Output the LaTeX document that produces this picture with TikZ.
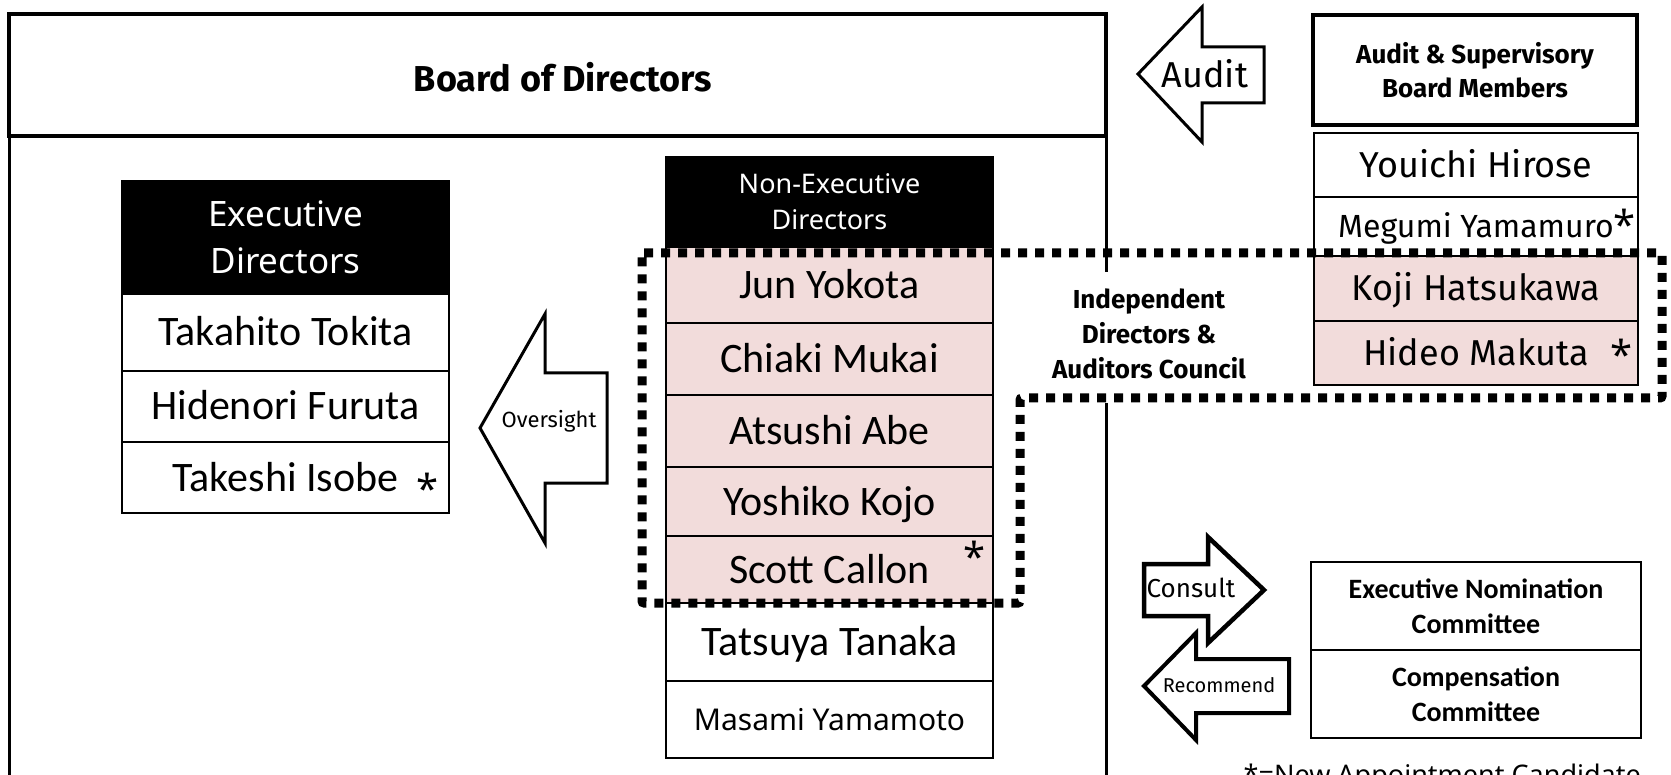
\documentclass[tikz,border=0pt]{standalone}
\usepackage{fontspec}
\setmainfont{Carlito}
\newfontfamily\fira{Fira Sans}
\newfontfamily\noto{Noto Sans}
\definecolor{pinkfill}{HTML}{F2DCDB}
\begin{document}
\begin{tikzpicture}[x=1pt,y=-1pt,
  cell/.style={draw, line width=1.6pt, inner sep=0pt, outer sep=0pt},
  pinkcell/.style={cell, fill=pinkfill},
  hdr/.style={cell, fill=black, text=white, align=center},
  exw/.style={minimum width=327pt},
  amw/.style={minimum width=324pt},
  cmw/.style={minimum width=330pt},
  calname/.style={font=\fontsize{42}{48}\selectfont, text height=27pt, text depth=0pt},
  firaname/.style={font=\fira\fontsize{36}{42}\selectfont, text height=25pt, text depth=0pt},
  boldlbl/.style={font=\fira\bfseries\fontsize{26}{34}\selectfont, align=center},
  comlbl/.style={font=\bfseries\fontsize{28}{35}\selectfont, align=center},
  blockarrow/.style={draw, line width=3pt, fill=white, line join=miter},
  starmark/.style={font=\noto\fontsize{40}{40}\selectfont, inner sep=0pt},
  council/.style={line width=9pt, dash pattern=on 9pt off 8pt, rounded corners=2pt}
]
\useasboundingbox (0,0) rectangle (1671,775);
\fill[white] (0,0) rectangle (1671,775);

% Board of Directors
\node[draw, line width=4pt, inner sep=0pt, minimum width=1097pt, minimum height=122pt] (board) at (557.5,75) {};
\node[font=\fira\bfseries\fontsize{36}{42}\selectfont, text height=25pt, text depth=0pt, inner sep=0pt] (boardlbl) at (563,79) {Board of Directors};
% lower frame
\coordinate (fl1) at (9,137);
\coordinate (fl2) at (9,780);
\coordinate (fr1) at (1106,137);
\coordinate (fr2) at (1106,272);
\coordinate (fr3) at (1106,403);
\coordinate (fr4) at (1106,780);
\draw[line width=3pt] (fl1) -- (fl2);
\draw[line width=3pt] (fr1) -- (fr2);
\draw[line width=3pt] (fr3) -- (fr4);
\draw[line width=3pt] (fl1) -- (fr1);

% Executive Directors
\node[hdr, exw, minimum height=113pt, font=\noto\fontsize{35}{47}\selectfont] (exh) at (285.5,237.5) {Executive\\Directors};
\node[cell, exw, minimum height=77pt, calname] (ex1) at (285.5,332.5) {Takahito Tokita};
\node[cell, exw, minimum height=71pt, calname] (ex2) at (285.5,406.5) {Hidenori Furuta};
\node[cell, exw, minimum height=71pt, calname] (ex3) at (285.5,477.5) {Takeshi Isobe};
\node[starmark] (st1) at (428,488) {*};

% Oversight arrow
\draw[blockarrow] (480,428) -- (545,314) -- (545,373) -- (607,373) -- (607,483) -- (545,483) -- (545,543) -- cycle;
\node[font=\fira\fontsize{22}{26}\selectfont] (over) at (549,421) {Oversight};

% Non-Executive Directors
\node[hdr, exw, minimum height=90pt, font=\noto\fontsize{27}{36}\selectfont] (neh) at (829.5,202) {Non-Executive\\Directors};
\node[pinkcell, exw, minimum height=76pt, calname] (ne1) at (829.5,285) {Jun Yokota};
\node[pinkcell, exw, minimum height=72pt, calname] (ne2) at (829.5,359) {Chiaki Mukai};
\node[pinkcell, exw, minimum height=72pt, calname] (ne3) at (829.5,431) {Atsushi Abe};
\node[pinkcell, exw, minimum height=69pt, calname] (ne4) at (829.5,501.5) {Yoshiko Kojo};
\node[pinkcell, exw, minimum height=67pt, calname] (ne5) at (829.5,569.5) {Scott Callon};
\node[starmark] (st2) at (975,556) {*};
\node[cell, exw, minimum height=78pt, calname] (ne6) at (829.5,642) {Tatsuya Tanaka};
\node[cell, exw, minimum height=77pt, font=\noto\fontsize{30}{36}\selectfont, text height=21pt, text depth=0pt] (ne7) at (829.5,719.5) {Masami Yamamoto};

% Audit arrow
\draw[blockarrow] (1138,74) -- (1202,7) -- (1202,47) -- (1264,47) -- (1264,103) -- (1202,103) -- (1202,142) -- cycle;
\node[font=\fira\fontsize{36}{40}\selectfont, text height=25pt, text depth=0pt, inner sep=0pt] (audit) at (1205,75) {Audit};

% Audit & Supervisory Board Members
\node[draw, line width=4pt, inner sep=0pt, minimum width=324pt, minimum height=110pt, boldlbl] (asb) at (1475,70) {Audit \& Supervisory\\Board Members};
\node[cell, amw, minimum height=64pt, firaname] (am1) at (1476,165) {Youichi Hirose};
\node[cell, amw, minimum height=59pt, font=\fira\fontsize{32}{38}\selectfont, text height=22pt, text depth=0pt] (am2) at (1476,226.5) {Megumi Yamamuro};
\node[starmark] (st3) at (1625,224) {*};
\node[pinkcell, amw, minimum height=65pt, firaname] (am3) at (1476,288.5) {Koji Hatsukawa};
\node[pinkcell, amw, minimum height=64pt, firaname] (am4) at (1476,353) {Hideo Makuta};
\node[starmark] (st4) at (1622,354) {*};

% Independent Directors & Auditors Council outline
\coordinate (c1) at (642,253);
\coordinate (c2) at (1662,253);
\coordinate (c3) at (1662,398);
\coordinate (c4) at (1020,398);
\coordinate (c5) at (1020,603);
\coordinate (c6) at (642,603);
\draw[council] (c1) -- (c2) -- (c3) -- (c4) -- (c5) -- (c6) -- cycle;
\node[boldlbl, font=\fira\bfseries\fontsize{26}{35}\selectfont] (idac) at (1149,334) {Independent\\Directors \&\\Auditors Council};

% Consult / Recommend arrows
\draw[blockarrow, line width=4.5pt] (1264,590) -- (1208,537) -- (1208,564) -- (1144,564) -- (1144,616) -- (1208,616) -- (1208,643) -- cycle;
\node[font=\fira\fontsize{26}{30}\selectfont] (consult) at (1191,588) {Consult};
\draw[blockarrow, line width=4pt] (1144,686) -- (1196,633) -- (1196,659) -- (1289,659) -- (1289,713) -- (1196,713) -- (1196,740) -- cycle;
\node[font=\fira\fontsize{20}{24}\selectfont] (recommend) at (1219,685) {Recommend};

% Committees
\node[cell, cmw, minimum height=88pt, comlbl] (enc) at (1476,606) {Executive Nomination\\Committee};
\node[cell, cmw, minimum height=88pt, comlbl] (cc) at (1476,694) {Compensation\\Committee};

% Legend (cut by the page edge, as in the reference)
\node[font=\noto\fontsize{27}{30}\selectfont, anchor=base east, inner sep=0pt] (legend) at (1641,784) {*=New Appointment Candidate};
\end{tikzpicture}
\end{document}
